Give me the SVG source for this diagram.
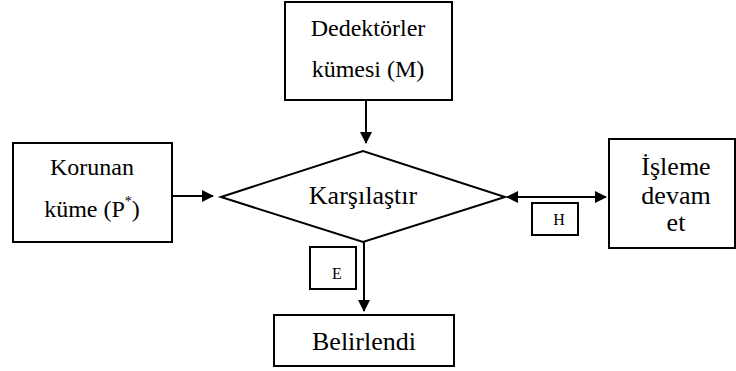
<svg xmlns="http://www.w3.org/2000/svg" width="736" height="371" viewBox="0 0 736 371">
  <defs>
    <style>
      .box { fill: #fff; stroke: #000; stroke-width: 2; }
      .wire { stroke: #000; stroke-width: 2; fill: none; }
    </style>
    <marker id="head" viewBox="0 0 12 12" refX="11" refY="6" markerWidth="12" markerHeight="12" markerUnits="userSpaceOnUse" orient="auto-start-reverse">
      <path d="M0,0 L12,6 L0,12 Z" fill="#000"/>
    </marker>
  </defs>
  <rect width="736" height="371" fill="#fff"/>

  <g id="connectors">
    <line class="wire" x1="366" y1="100" x2="366" y2="143" marker-end="url(#head)"/>
    <line class="wire" x1="172" y1="196" x2="213" y2="196" marker-end="url(#head)"/>
    <line class="wire" x1="507" y1="197" x2="606" y2="197" marker-start="url(#head)" marker-end="url(#head)"/>
    <line class="wire" x1="364" y1="242" x2="364" y2="311" marker-end="url(#head)"/>
  </g>

  <g font-family="'Liberation Serif', 'Times New Roman', serif" fill="#000" text-anchor="middle">
    <g id="detectors">
      <rect class="box" x="285" y="2" width="167" height="98"/>
      <text x="368" y="36" font-size="24">Dedektörler</text>
      <text x="368" y="77" font-size="24">kümesi (M)</text>
    </g>

    <g id="protected">
      <rect class="box" x="13" y="143" width="159" height="99"/>
      <text x="92" y="175" font-size="24">Korunan</text>
      <text x="92" y="217" font-size="24">küme (P<tspan font-size="14" dy="-11">*</tspan><tspan dy="11">)</tspan></text>
    </g>

    <g id="compare">
      <polygon class="box" points="221,197 363,151 505,197 363,242"/>
      <text x="363" y="204" font-size="26">Karşılaştır</text>
    </g>

    <g id="continue">
      <rect class="box" x="609" y="139" width="126" height="109"/>
      <text x="676" y="175" font-size="26">İşleme</text>
      <text x="676" y="204" font-size="26">devam</text>
      <text x="676" y="231" font-size="26">et</text>
    </g>

    <g id="tag-h">
      <rect class="box" x="532" y="203" width="46" height="32"/>
      <text x="559" y="225" font-size="16">H</text>
    </g>

    <g id="tag-e">
      <rect class="box" x="310" y="247" width="46" height="42"/>
      <text x="337" y="279" font-size="16">E</text>
    </g>

    <g id="detected">
      <rect class="box" x="274" y="315" width="180" height="51"/>
      <text x="364" y="350" font-size="26">Belirlendi</text>
    </g>
  </g>
</svg>
